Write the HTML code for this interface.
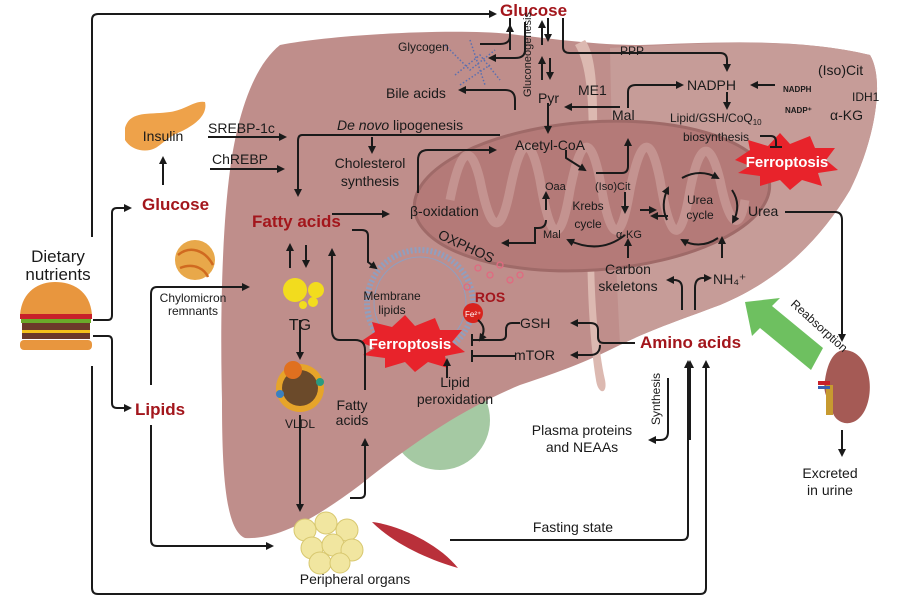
<!DOCTYPE html>
<html><head><meta charset="utf-8"><style>
html,body{margin:0;padding:0;background:#fff;}
svg{display:block;font-family:"Liberation Sans",sans-serif;}
.t{font-size:14px;fill:#1a1a1a;}
.s{font-size:12px;fill:#1a1a1a;}
.r{font-size:17px;font-weight:bold;fill:#a3161c;}
.l{fill:none;stroke:#1a1a1a;stroke-width:2;}
</style></head><body>
<svg width="918" height="601" viewBox="0 0 918 601" xmlns="http://www.w3.org/2000/svg">
<defs>
<marker id="a" markerWidth="8" markerHeight="8" refX="6" refY="4" orient="auto" markerUnits="userSpaceOnUse"><path d="M0,0 L8,4 L0,8 z" fill="#1a1a1a"/></marker>
</defs>
<!-- gallbladder (behind liver) -->
<circle cx="440" cy="420" r="50" fill="#a5c9a3"/>
<!-- liver -->
<path d="M280,45 C330,35 450,28 510,34 C560,40 600,45 640,45 C720,42 800,38 870,55 C885,80 875,140 850,190 C820,240 780,280 720,305 C680,320 650,330 620,345 C580,365 550,375 520,385 C460,410 410,445 360,485 C320,515 280,540 245,538 C225,530 222,470 222,400 C220,320 222,230 230,170 C238,110 255,65 280,45 Z" fill="#bf8e8b"/>
<path d="M610,48 C720,42 800,38 870,55 C885,80 875,140 850,190 C820,240 780,280 720,305 C680,320 650,330 620,345 C615,250 612,150 610,48 Z" fill="#c69c98"/>
<!-- ligament -->
<path d="M585,40 C600,60 598,120 595,200 C592,270 596,340 605,380 C608,395 598,395 596,380 C588,330 586,260 588,200 C590,120 590,70 575,45 Z" fill="#dcb9b1"/>
<!-- mitochondrion -->
<ellipse cx="592" cy="196" rx="178" ry="74" fill="#b47a78" stroke="#9f6a68" stroke-width="3" transform="rotate(-4 592 196)"/>
<path d="M450,200 C460,150 470,140 480,180 C490,230 500,240 510,190 C520,140 530,130 540,180 C550,240 560,250 570,190 C580,140 590,130 600,180 C610,240 620,250 630,190 C640,140 650,130 660,180 C670,240 680,250 690,190 C700,140 710,140 720,180 C730,230 740,230 745,200" fill="none" stroke="#c89a96" stroke-width="9" opacity="0.8"/>
<!-- glycogen -->
<g stroke="#5a6fb0" stroke-width="1.5" stroke-dasharray="1.5 2" fill="none">
<path d="M445,45 L470,70 L495,50 M455,75 L480,55 L500,80 M460,85 L490,65 M470,40 L485,85"/>
</g>
<!-- membrane circle -->
<circle cx="420" cy="303" r="53" fill="none" stroke="#8f9fc0" stroke-width="6" stroke-dasharray="2 2"/>
<circle cx="420" cy="303" r="46" fill="none" stroke="#8f9fc0" stroke-width="1"/>
<!-- ROS dots -->
<g fill="none" stroke="#e06a80" stroke-width="1.3"><circle cx="478" cy="268" r="3"/><circle cx="490" cy="275" r="3"/><circle cx="500" cy="265" r="3"/><circle cx="510" cy="280" r="3"/><circle cx="467" cy="287" r="3"/><circle cx="520" cy="275" r="3"/></g>
<circle cx="473" cy="313" r="10" fill="#d8231d"/><text x="465" y="317" font-size="8" fill="#fff">Fe²⁺</text>
<!-- ferroptosis stars -->
<g fill="#e8232b">
<polygon points="360,342 375,332 372,322 392,327 405,315 415,326 435,318 440,330 462,330 452,342 465,352 445,356 448,368 428,362 415,372 405,362 385,368 385,358 363,355 375,348"/>
<polygon points="735,160 750,150 748,140 768,146 780,133 790,144 810,136 815,148 835,148 826,160 838,170 818,173 822,186 802,180 790,190 780,180 760,186 760,176 738,173 750,166"/>
</g>
<text x="410" y="349" font-size="15" font-weight="bold" fill="#fff" text-anchor="middle">Ferroptosis</text>
<text x="787" y="167" font-size="15" font-weight="bold" fill="#fff" text-anchor="middle">Ferroptosis</text>
<!-- TG droplets -->
<circle cx="295" cy="290" r="12" fill="#f2dc1e"/><circle cx="316" cy="290" r="8" fill="#f2dc1e"/><circle cx="303" cy="305" r="4" fill="#f2dc1e"/><circle cx="313" cy="302" r="5" fill="#f2dc1e"/>
<!-- VLDL -->
<circle cx="300" cy="388" r="24" fill="#e6a42a"/><circle cx="300" cy="388" r="18" fill="#6b4a2a"/><circle cx="293" cy="370" r="9" fill="#e0701f"/><circle cx="320" cy="382" r="4" fill="#2a9a80"/><circle cx="280" cy="394" r="4" fill="#3a80c0"/>
<!-- chylomicron ball -->
<circle cx="195" cy="260" r="20" fill="#e8a84a"/><path d="M178,255 C190,245 205,250 213,265 M180,268 C195,262 205,270 208,277" stroke="#d06a20" stroke-width="2.5" fill="none"/>
<!-- pancreas -->
<path d="M125,128 C130,110 150,115 170,112 C185,110 195,100 205,102 C208,115 195,125 180,132 C165,138 160,148 150,150 C140,152 130,148 125,140 Z" fill="#eea24a"/>
<!-- burger -->
<path d="M20,315 C22,290 40,282 55,282 C72,282 90,290 92,315 Z" fill="#e8963e"/>
<rect x="20" y="314" width="72" height="5" fill="#c8202a"/><rect x="21" y="319" width="70" height="4" fill="#6aaa2a"/><rect x="22" y="323" width="68" height="7" fill="#6b3a2a"/><rect x="22" y="330" width="68" height="3" fill="#f5c21a"/><rect x="22" y="333" width="68" height="6" fill="#6b3a2a"/><rect x="20" y="340" width="72" height="10" rx="4" fill="#e8963e"/>
<!-- fat cells -->
<g fill="#f1e6a0" stroke="#d8c870"><circle cx="305" cy="530" r="11"/><circle cx="326" cy="523" r="11"/><circle cx="347" cy="530" r="11"/><circle cx="312" cy="548" r="11"/><circle cx="333" cy="545" r="11"/><circle cx="352" cy="550" r="11"/><circle cx="320" cy="563" r="11"/><circle cx="340" cy="563" r="10"/></g>
<!-- muscle -->
<path d="M372,522 C400,525 440,545 458,568 C430,560 395,545 372,522 Z" fill="#b9303a"/>
<!-- kidney -->
<path d="M845,350 C870,352 875,390 865,410 C855,430 835,425 832,410 C830,400 822,395 825,380 C828,360 835,350 845,350 Z" fill="#a55a55"/>
<rect x="826" y="385" width="7" height="30" fill="#c79a30"/><rect x="818" y="381" width="12" height="4" fill="#c8202a"/><rect x="818" y="386" width="12" height="3" fill="#3a60b0"/>
<!-- green arrow -->
<polygon points="823,348 772,306 780,298 745,302 752,336 760,328 811,370" fill="#6ec060"/>
<text transform="translate(790,305) rotate(42)" class="s" fill="#1a1a1a">Reabsorption</text>
<!-- connectors -->
<path class="l" d="M92,237 V20 Q92,14 98,14 H495" marker-end="url(#a)"/>
<path class="l" d="M92,366 V588 Q92,594 98,594 H700 Q706,594 706,588 V362" marker-end="url(#a)"/>
<path class="l" d="M93,320 H108 Q112,320 112,315 V213 Q112,208 117,208 H130" marker-end="url(#a)"/>
<path class="l" d="M93,336 H108 Q112,336 112,341 V403 Q112,408 117,408 H130" marker-end="url(#a)"/>
<path class="l" d="M163,185 V158" marker-end="url(#a)"/>
<path class="l" d="M208,137 H285" marker-end="url(#a)"/>
<path class="l" d="M210,169 H283" marker-end="url(#a)"/>
<path class="l" d="M151,385 V294 Q151,287 157,287 H248" marker-end="url(#a)"/>
<path class="l" d="M151,425 V540 Q151,546 157,546 H272" marker-end="url(#a)"/>
<path class="l" d="M300,320 V358" marker-end="url(#a)"/>
<path class="l" d="M300,415 V510" marker-end="url(#a)"/>
<path class="l" d="M350,498 H360 Q365,498 365,493 V440" marker-end="url(#a)"/>
<path class="l" d="M365,390 V350 Q365,340 355,340 H340 Q332,340 332,330 V250" marker-end="url(#a)"/>
<path class="l" d="M290,268 V245" marker-end="url(#a)"/>
<path class="l" d="M306,245 V266" marker-end="url(#a)"/>
<path class="l" d="M332,214 H388" marker-end="url(#a)"/>
<path class="l" d="M352,230 H362 Q368,230 368,236 V262 L376,268" marker-end="url(#a)"/>
<path class="l" d="M500,135 H302 Q298,135 298,141 V195" marker-end="url(#a)"/>
<path class="l" d="M372,137 V152" marker-end="url(#a)"/>
<path class="l" d="M418,193 V160 Q418,150 428,150 H495" marker-end="url(#a)"/>
<path class="l" d="M515,110 V100 Q515,90 505,90 H460" marker-end="url(#a)"/>
<path class="l" d="M510,18 V36 Q510,44 500,44 H480 M525,22 V50 Q525,58 515,58 H490" marker-end="url(#a)"/>
<path class="l" d="M510,50 V26" marker-end="url(#a)"/>
<path class="l" d="M542,45 V22" marker-end="url(#a)"/>
<path class="l" d="M548,18 V40" marker-end="url(#a)"/>
<path class="l" d="M542,80 V58" marker-end="url(#a)"/>
<path class="l" d="M550,58 V78" marker-end="url(#a)"/>
<path class="l" d="M563,18 V47 Q563,53 570,53 H720 Q727,53 727,60 V70" marker-end="url(#a)"/>
<path class="l" d="M548,103 V132" marker-end="url(#a)"/>
<path class="l" d="M620,107 H566" marker-end="url(#a)"/>
<path class="l" d="M628,108 V92 Q628,85 636,85 H682" marker-end="url(#a)"/>
<path class="l" d="M775,85 H752" marker-end="url(#a)"/>
<path class="l" d="M727,92 V108" marker-end="url(#a)"/>
<path class="l" d="M760,136 H771 Q776,136 776,142 V148 M770,147 H782"/>
<path class="l" d="M566,150 V158 L585,170" marker-end="url(#a)"/>
<path class="l" d="M596,173 H622 Q628,173 628,166 V140" marker-end="url(#a)"/>
<path class="l" d="M546,210 V193" marker-end="url(#a)"/>
<path class="l" d="M546,220 Q546,228 538,228 H535 V243 H503" marker-end="url(#a)"/>
<path class="l" d="M625,235 Q600,255 568,240" marker-end="url(#a)"/>
<path class="l" d="M625,192 V212" marker-end="url(#a)"/>
<path class="l" d="M640,210 H655" marker-end="url(#a)"/>
<path class="l" d="M668,216 H652" marker-end="url(#a)"/>
<path class="l" d="M667,220 Q660,205 668,188" marker-end="url(#a)"/>
<path class="l" d="M682,178 Q700,168 718,178" marker-end="url(#a)"/>
<path class="l" d="M732,190 Q742,205 733,222" marker-end="url(#a)"/>
<path class="l" d="M718,238 Q700,250 682,240" marker-end="url(#a)"/>
<path class="l" d="M628,258 V240" marker-end="url(#a)"/>
<path class="l" d="M722,258 V238" marker-end="url(#a)"/>
<path class="l" d="M785,212 H835 Q842,212 842,220 V340" marker-end="url(#a)"/>
<path class="l" d="M682,310 V288 Q682,280 674,280 H668" marker-end="url(#a)"/>
<path class="l" d="M695,310 V288 Q695,278 703,278 H710" marker-end="url(#a)"/>
<path class="l" d="M635,343 H604 Q598,343 598,337 V330 Q598,323 590,323 H572" marker-end="url(#a)"/>
<path class="l" d="M600,345 Q600,355 590,355 H572" marker-end="url(#a)"/>
<path class="l" d="M520,323 H512 Q506,323 506,330 V335 Q506,340 500,340 H472 M472,334 V346"/>
<path class="l" d="M516,356 H472 M472,350 V362"/>
<path class="l" d="M447,378 V360" marker-end="url(#a)"/>
<path class="l" d="M478,320 Q488,328 480,340" marker-end="url(#a)"/>
<path class="l" d="M668,378 V432 Q668,440 660,440 H650" marker-end="url(#a)"/>
<path class="l" d="M690,440 V362" marker-end="url(#a)"/>
<path class="l" d="M450,540 H682 Q688,540 688,534 V362" marker-end="url(#a)"/>
<path class="l" d="M842,430 V455" marker-end="url(#a)"/>
<!-- labels -->
<text x="58" y="262" font-size="17" fill="#1a1a1a" text-anchor="middle">Dietary</text>
<text x="58" y="280" font-size="17" fill="#1a1a1a" text-anchor="middle">nutrients</text>
<text x="163" y="141" class="t" text-anchor="middle">Insulin</text>
<text x="142" y="210" class="r">Glucose</text>
<text x="135" y="415" class="r">Lipids</text>
<text x="208" y="133" class="t">SREBP-1c</text>
<text x="212" y="164" class="t">ChREBP</text>
<text x="193" y="302" class="s" text-anchor="middle">Chylomicron</text>
<text x="193" y="315" class="s" text-anchor="middle">remnants</text>
<text x="252" y="227" class="r">Fatty acids</text>
<text x="300" y="330" font-size="16" fill="#1a1a1a" text-anchor="middle">TG</text>
<text x="300" y="428" class="s" text-anchor="middle">VLDL</text>
<text x="352" y="410" class="t" text-anchor="middle">Fatty</text>
<text x="352" y="425" class="t" text-anchor="middle">acids</text>
<text x="355" y="584" class="t" text-anchor="middle">Peripheral organs</text>
<text x="573" y="532" class="t" text-anchor="middle">Fasting state</text>
<text x="582" y="435" class="t" text-anchor="middle">Plasma proteins</text>
<text x="582" y="452" class="t" text-anchor="middle">and NEAAs</text>
<text transform="translate(660,425) rotate(-90)" class="s">Synthesis</text>
<text x="830" y="478" class="t" text-anchor="middle">Excreted</text>
<text x="830" y="495" class="t" text-anchor="middle">in urine</text>
<text x="500" y="16" class="r">Glucose</text>
<text x="398" y="51" class="s">Glycogen</text>
<text transform="translate(531,97) rotate(-90)" font-size="11" fill="#1a1a1a">Gluconeogenesis</text>
<text x="386" y="98" class="t">Bile acids</text>
<text x="538" y="103" class="t">Pyr</text>
<text x="578" y="95" class="t">ME1</text>
<text x="620" y="55" class="s">PPP</text>
<text x="612" y="120" class="t">Mal</text>
<text x="687" y="90" class="t">NADPH</text>
<text x="818" y="75" class="t">(Iso)Cit</text>
<text x="783" y="92" font-size="8" font-weight="bold" fill="#1a1a1a">NADPH</text>
<text x="785" y="113" font-size="8" font-weight="bold" fill="#1a1a1a">NADP⁺</text>
<text x="852" y="101" class="s">IDH1</text>
<text x="830" y="120" class="t">α-KG</text>
<text x="670" y="122" class="s">Lipid/GSH/CoQ<tspan font-size="8" dy="3">10</tspan></text>
<text x="683" y="141" class="s">biosynthesis</text>
<text x="337" y="130" class="t"><tspan font-style="italic">De novo</tspan> lipogenesis</text>
<text x="370" y="168" class="t" fill="#5a3a3a" text-anchor="middle">Cholesterol</text>
<text x="370" y="186" class="t" fill="#5a3a3a" text-anchor="middle">synthesis</text>
<text x="550" y="150" class="t" text-anchor="middle">Acetyl-CoA</text>
<text x="545" y="190" font-size="11" fill="#1a1a1a">Oaa</text>
<text x="595" y="190" font-size="11" fill="#1a1a1a">(Iso)Cit</text>
<text x="588" y="210" class="s" text-anchor="middle">Krebs</text>
<text x="588" y="228" class="s" text-anchor="middle">cycle</text>
<text x="543" y="238" font-size="11" fill="#1a1a1a">Mal</text>
<text x="616" y="238" font-size="11" fill="#1a1a1a">α-KG</text>
<text x="700" y="204" class="s" text-anchor="middle">Urea</text>
<text x="700" y="219" class="s" text-anchor="middle">cycle</text>
<text x="748" y="216" class="t">Urea</text>
<text x="410" y="216" class="t">β-oxidation</text>
<text transform="translate(437,238) rotate(25)" class="t">OXPHOS</text>
<text x="490" y="302" font-size="14" font-weight="bold" fill="#a3161c" text-anchor="middle">ROS</text>
<text x="392" y="300" class="s" text-anchor="middle">Membrane</text>
<text x="392" y="314" class="s" text-anchor="middle">lipids</text>
<text x="520" y="328" class="t">GSH</text>
<text x="514" y="360" class="t">mTOR</text>
<text x="455" y="387" class="t" text-anchor="middle">Lipid</text>
<text x="455" y="404" class="t" text-anchor="middle">peroxidation</text>
<text x="628" y="274" class="t" text-anchor="middle">Carbon</text>
<text x="628" y="291" class="t" text-anchor="middle">skeletons</text>
<text x="713" y="284" class="t">NH₄⁺</text>
<text x="640" y="348" class="r">Amino acids</text>
</svg>
</body></html>
